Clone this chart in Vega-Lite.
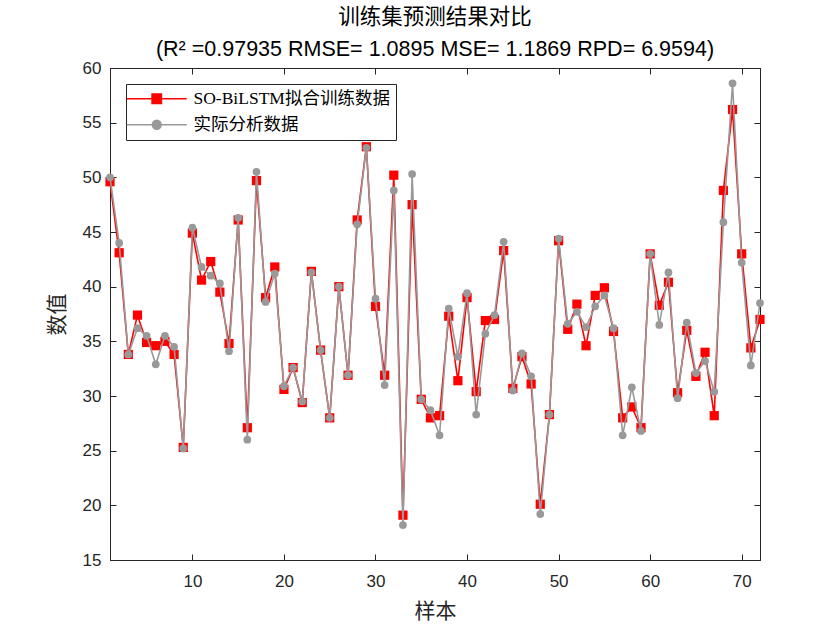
{
  "$schema": "https://vega.github.io/schema/vega-lite/v6.json",
  "autosize": "none",
  "width": 650,
  "height": 492,
  "padding": {"left": 110, "top": 68, "right": 80, "bottom": 70},
  "background": "white",
  "title": {
    "text": ["训练集预测结果对比", "(R² =0.97935 RMSE= 1.0895 MSE= 1.1869 RPD= 6.9594)"],
    "font": "Liberation Sans, Noto Sans CJK SC",
    "fontSize": 21.5,
    "fontWeight": "normal",
    "lineHeight": 32,
    "anchor": "middle",
    "offset": -1,
    "color": "#000000"
  },
  "data": {
    "values": [
      {"x":1,"SO-BiLSTM拟合训练数据":49.6,"实际分析数据":50.0},
      {"x":2,"SO-BiLSTM拟合训练数据":43.1,"实际分析数据":44.0},
      {"x":3,"SO-BiLSTM拟合训练数据":33.8,"实际分析数据":33.8},
      {"x":4,"SO-BiLSTM拟合训练数据":37.4,"实际分析数据":36.2},
      {"x":5,"SO-BiLSTM拟合训练数据":34.9,"实际分析数据":35.5},
      {"x":6,"SO-BiLSTM拟合训练数据":34.6,"实际分析数据":32.9},
      {"x":7,"SO-BiLSTM拟合训练数据":35.0,"实际分析数据":35.5},
      {"x":8,"SO-BiLSTM拟合训练数据":33.8,"实际分析数据":34.5},
      {"x":9,"SO-BiLSTM拟合训练数据":25.3,"实际分析数据":25.2},
      {"x":10,"SO-BiLSTM拟合训练数据":44.9,"实际分析数据":45.4},
      {"x":11,"SO-BiLSTM拟合训练数据":40.6,"实际分析数据":41.8},
      {"x":12,"SO-BiLSTM拟合训练数据":42.3,"实际分析数据":41.0},
      {"x":13,"SO-BiLSTM拟合训练数据":39.5,"实际分析数据":40.3},
      {"x":14,"SO-BiLSTM拟合训练数据":34.8,"实际分析数据":34.1},
      {"x":15,"SO-BiLSTM拟合训练数据":46.1,"实际分析数据":46.3},
      {"x":16,"SO-BiLSTM拟合训练数据":27.1,"实际分析数据":26.0},
      {"x":17,"SO-BiLSTM拟合训练数据":49.7,"实际分析数据":50.5},
      {"x":18,"SO-BiLSTM拟合训练数据":39.0,"实际分析数据":38.6},
      {"x":19,"SO-BiLSTM拟合训练数据":41.8,"实际分析数据":41.2},
      {"x":20,"SO-BiLSTM拟合训练数据":30.6,"实际分析数据":30.9},
      {"x":21,"SO-BiLSTM拟合训练数据":32.6,"实际分析数据":32.6},
      {"x":22,"SO-BiLSTM拟合训练数据":29.4,"实际分析数据":29.5},
      {"x":23,"SO-BiLSTM拟合训练数据":41.4,"实际分析数据":41.3},
      {"x":24,"SO-BiLSTM拟合训练数据":34.2,"实际分析数据":34.2},
      {"x":25,"SO-BiLSTM拟合训练数据":28.0,"实际分析数据":28.0},
      {"x":26,"SO-BiLSTM拟合训练数据":40.0,"实际分析数据":40.0},
      {"x":27,"SO-BiLSTM拟合训练数据":31.9,"实际分析数据":31.9},
      {"x":28,"SO-BiLSTM拟合训练数据":46.1,"实际分析数据":45.7},
      {"x":29,"SO-BiLSTM拟合训练数据":52.8,"实际分析数据":52.7},
      {"x":30,"SO-BiLSTM拟合训练数据":38.2,"实际分析数据":38.9},
      {"x":31,"SO-BiLSTM拟合训练数据":31.9,"实际分析数据":31.0},
      {"x":32,"SO-BiLSTM拟合训练数据":50.2,"实际分析数据":48.8},
      {"x":33,"SO-BiLSTM拟合训练数据":19.1,"实际分析数据":18.2},
      {"x":34,"SO-BiLSTM拟合训练数据":47.5,"实际分析数据":50.3},
      {"x":35,"SO-BiLSTM拟合训练数据":29.7,"实际分析数据":29.7},
      {"x":36,"SO-BiLSTM拟合训练数据":28.0,"实际分析数据":28.7},
      {"x":37,"SO-BiLSTM拟合训练数据":28.2,"实际分析数据":26.4},
      {"x":38,"SO-BiLSTM拟合训练数据":37.3,"实际分析数据":38.0},
      {"x":39,"SO-BiLSTM拟合训练数据":31.4,"实际分析数据":33.6},
      {"x":40,"SO-BiLSTM拟合训练数据":39.0,"实际分析数据":39.4},
      {"x":41,"SO-BiLSTM拟合训练数据":30.4,"实际分析数据":28.3},
      {"x":42,"SO-BiLSTM拟合训练数据":36.9,"实际分析数据":35.7},
      {"x":43,"SO-BiLSTM拟合训练数据":37.0,"实际分析数据":37.4},
      {"x":44,"SO-BiLSTM拟合训练数据":43.3,"实际分析数据":44.1},
      {"x":45,"SO-BiLSTM拟合训练数据":30.7,"实际分析数据":30.5},
      {"x":46,"SO-BiLSTM拟合训练数据":33.6,"实际分析数据":33.9},
      {"x":47,"SO-BiLSTM拟合训练数据":31.1,"实际分析数据":31.8},
      {"x":48,"SO-BiLSTM拟合训练数据":20.1,"实际分析数据":19.2},
      {"x":49,"SO-BiLSTM拟合训练数据":28.3,"实际分析数据":28.3},
      {"x":50,"SO-BiLSTM拟合训练数据":44.2,"实际分析数据":44.4},
      {"x":51,"SO-BiLSTM拟合训练数据":36.1,"实际分析数据":36.6},
      {"x":52,"SO-BiLSTM拟合训练数据":38.4,"实际分析数据":37.7},
      {"x":53,"SO-BiLSTM拟合训练数据":34.6,"实际分析数据":36.3},
      {"x":54,"SO-BiLSTM拟合训练数据":39.2,"实际分析数据":38.2},
      {"x":55,"SO-BiLSTM拟合训练数据":39.9,"实际分析数据":39.2},
      {"x":56,"SO-BiLSTM拟合训练数据":35.9,"实际分析数据":36.2},
      {"x":57,"SO-BiLSTM拟合训练数据":28.0,"实际分析数据":26.4},
      {"x":58,"SO-BiLSTM拟合训练数据":29.0,"实际分析数据":30.8},
      {"x":59,"SO-BiLSTM拟合训练数据":27.1,"实际分析数据":26.8},
      {"x":60,"SO-BiLSTM拟合训练数据":43.0,"实际分析数据":43.0},
      {"x":61,"SO-BiLSTM拟合训练数据":38.3,"实际分析数据":36.5},
      {"x":62,"SO-BiLSTM拟合训练数据":40.4,"实际分析数据":41.3},
      {"x":63,"SO-BiLSTM拟合训练数据":30.3,"实际分析数据":29.8},
      {"x":64,"SO-BiLSTM拟合训练数据":36.0,"实际分析数据":36.7},
      {"x":65,"SO-BiLSTM拟合训练数据":31.8,"实际分析数据":32.1},
      {"x":66,"SO-BiLSTM拟合训练数据":34.0,"实际分析数据":33.2},
      {"x":67,"SO-BiLSTM拟合训练数据":28.2,"实际分析数据":30.4},
      {"x":68,"SO-BiLSTM拟合训练数据":48.8,"实际分析数据":45.9},
      {"x":69,"SO-BiLSTM拟合训练数据":56.2,"实际分析数据":58.6},
      {"x":70,"SO-BiLSTM拟合训练数据":43.0,"实际分析数据":42.2},
      {"x":71,"SO-BiLSTM拟合训练数据":34.4,"实际分析数据":32.8},
      {"x":72,"SO-BiLSTM拟合训练数据":37.0,"实际分析数据":38.5}
    ]
  },
  "transform": [
    {"fold": ["SO-BiLSTM拟合训练数据", "实际分析数据"], "as": ["s", "v"]}
  ],
  "encoding": {
    "x": {"field": "x", "type": "quantitative", "scale": {"domain": [1, 72], "nice": false, "zero": false}},
    "y": {"field": "v", "type": "quantitative", "scale": {"domain": [15, 60], "nice": false, "zero": false}},
    "color": {
      "field": "s", "type": "nominal",
      "scale": {"domain": ["SO-BiLSTM拟合训练数据", "实际分析数据"], "range": ["#ff0000", "#999999"]},
      "legend": null
    }
  },
  "layer": [
    {
      "transform": [{"filter": "datum.s === 'SO-BiLSTM拟合训练数据'"}],
      "mark": {"type": "line", "strokeWidth": 1.6},
      "encoding": {
        "x": {"field": "x", "type": "quantitative", "axis": {
          "orient": "bottom", "values": [10,20,30,40,50,60,70], "title": "样本", "grid": false,
          "tickSize": -6, "labelPadding": 19, "titlePadding": 11
        }},
        "y": {"field": "v", "type": "quantitative", "axis": {
          "orient": "left", "values": [15,20,25,30,35,40,45,50,55,60], "title": "数值", "grid": false,
          "tickSize": -6, "labelPadding": 15, "titlePadding": 15
        }},
        "color": {
          "field": "s", "type": "nominal",
          "legend": {
            "orient": "none",
            "legendX": 16,
            "legendY": 16,
            "title": null,
            "symbolSize": 100,
            "symbolStrokeWidth": 1.6,
            "symbolOffset": 16,
            "labelFont": "Liberation Serif, Noto Sans CJK SC",
            "labelFontSize": 17.5,
            "labelColor": "#000000",
            "labelOffset": 28,
            "strokeColor": "#262626",
            "fillColor": "white",
            "padding": 6,
            "rowPadding": 7,
            "labelLimit": 400,
            "encode": {
              "symbols": {
                "update": {
                  "shape": {"signal": "datum.value === '实际分析数据' ? 'M-6,0H6M0.87,0A0.87,0.87 0 1,1 -0.87,0A0.87,0.87 0 1,1 0.87,0Z' : 'M-6,0H6M-0.93,-0.93H0.93V0.93H-0.93Z'"},
                  "fill": {"signal": "datum.value === '实际分析数据' ? '#999999' : '#ff0000'"},
                  "stroke": {"signal": "datum.value === '实际分析数据' ? '#999999' : '#ff0000'"},
                  "strokeWidth": {"value": 1.6},
                  "opacity": {"value": 1}
                }
              }
            }
          }
        }
      }
    },
    {
      "transform": [{"filter": "datum.s === 'SO-BiLSTM拟合训练数据'"}],
      "mark": {"type": "point", "shape": "square", "filled": true, "size": 85, "opacity": 1},
      "encoding": {
        "x": {"field": "x", "type": "quantitative", "axis": null},
        "y": {"field": "v", "type": "quantitative", "axis": null}
      }
    },
    {
      "transform": [{"filter": "datum.s === '实际分析数据'"}],
      "mark": {"type": "line", "strokeWidth": 1.6},
      "encoding": {
        "x": {"field": "x", "type": "quantitative", "axis": {
          "orient": "top", "values": [10,20,30,40,50,60,70], "title": null, "labels": false, "grid": false,
          "tickSize": -6
        }},
        "y": {"field": "v", "type": "quantitative", "axis": {
          "orient": "right", "values": [15,20,25,30,35,40,45,50,55,60], "title": null, "labels": false, "grid": false,
          "tickSize": -6
        }}
      }
    },
    {
      "transform": [{"filter": "datum.s === '实际分析数据'"}],
      "mark": {"type": "point", "shape": "circle", "filled": true, "size": 60, "opacity": 1},
      "encoding": {
        "x": {"field": "x", "type": "quantitative", "axis": null},
        "y": {"field": "v", "type": "quantitative", "axis": null}
      }
    }
  ],
  "resolve": {"axis": {"x": "independent", "y": "independent"}},
  "config": {
    "view": {"stroke": "#262626", "strokeWidth": 1},
    "axis": {
      "domainColor": "#262626",
      "tickColor": "#262626",
      "labelColor": "#262626",
      "titleColor": "#262626",
      "labelFont": "Liberation Sans",
      "labelFontSize": 17,
      "titleFont": "Noto Sans CJK SC",
      "titleFontSize": 21,
      "titleFontWeight": "normal",
      "domainWidth": 1,
      "labelOverlap": false
    }
  }
}
